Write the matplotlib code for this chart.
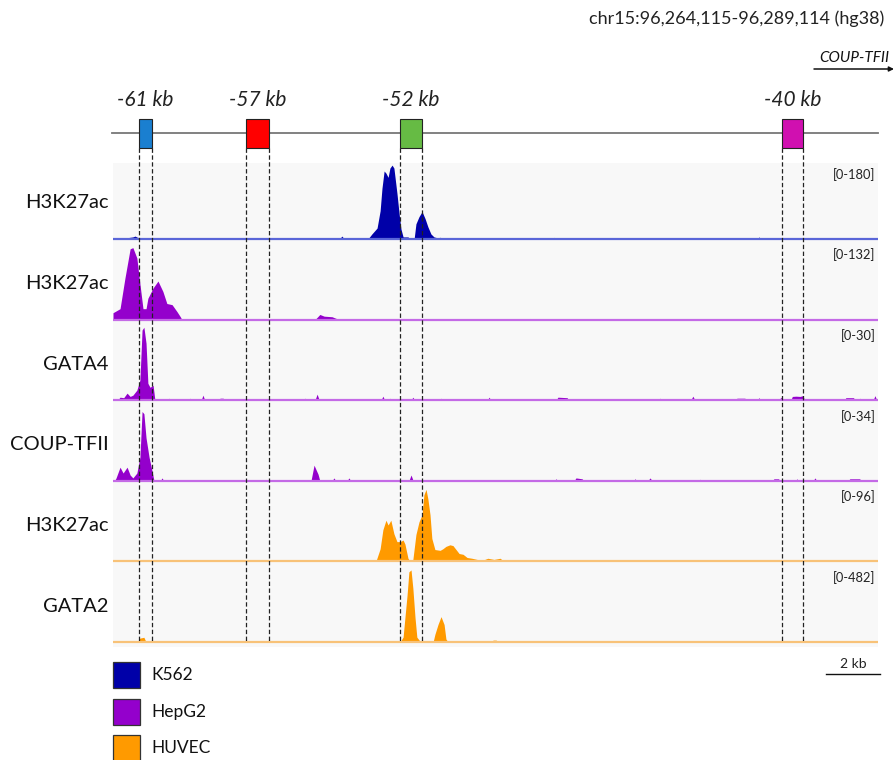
"""
Genome browser style view of the COUP-TFII upstream enhancers (hg38)
"""

import matplotlib
matplotlib.use("Agg")
import matplotlib.pyplot as plt
from matplotlib.patches import Rectangle

W, H = 894, 760

region = "chr15:96,264,115-96,289,114 (hg38)"
window_kb = 25.0
gene_name = "COUP-TFII"
scale_label = "2 kb"

# enhancers (kb from window start)
enh_labels = ["-61 kb", "-57 kb", "-52 kb", "-40 kb"]
enh_start = [0.85, 4.35, 9.38, 21.86]
enh_end = [1.27, 5.10, 10.10, 22.55]
enh_colors = ["#1a7fd0", "#ff0000", "#66bb44", "#d010b0"]

# tracks
track_names = ["H3K27ac", "H3K27ac", "GATA4", "COUP-TFII", "H3K27ac", "GATA2"]
track_cells = ["K562", "HepG2", "HepG2", "HepG2", "HUVEC", "HUVEC"]
track_max = [180, 132, 30, 34, 96, 482]

cell_lines = ["K562", "HepG2", "HUVEC"]
cell_fill = {"K562": "#0000a8", "HepG2": "#9400cc", "HUVEC": "#ff9a00"}
cell_base = {"K562": "#5a66d8", "HepG2": "#c46ae6", "HUVEC": "#f8c278"}

# signal profiles: (kb, signal) vertices
k562_h3k27ac = [
    (0.10, 0), (0.23, 2), (0.45, 3), (0.65, 5), (0.72, 7), (0.80, 4), (0.95, 2),
    (1.10, 3), (1.30, 3), (1.45, 2), (1.60, 1), (1.80, 0),
    (7.40, 0), (7.48, 7), (7.56, 0),
    (8.33, 0), (8.46, 12), (8.63, 26), (8.73, 67), (8.79, 120), (8.86, 161),
    (8.92, 156), (8.99, 146), (9.05, 168), (9.12, 175), (9.18, 168), (9.22, 144),
    (9.28, 108), (9.35, 60), (9.41, 24), (9.48, 5), (9.54, 5), (9.64, 5), (9.71, 0),
    (9.84, 0), (9.90, 36), (10.00, 53), (10.10, 65), (10.20, 48), (10.29, 29),
    (10.39, 12), (10.49, 5), (10.60, 3), (10.69, 4), (10.80, 2), (11.01, 2),
    (11.10, 2), (11.18, 2), (11.40, 1), (11.50, 1), (12.00, 1), (12.10, 0),
    (12.20, 2), (12.50, 1), (12.60, 0),
    (14.35, 0), (14.41, 4), (14.47, 0),
    (21.05, 0), (21.11, 5), (21.17, 0),
]

hepg2_h3k27ac = [
    (0.00, 12), (0.23, 19), (0.39, 72), (0.56, 123), (0.65, 125), (0.78, 107),
    (0.88, 62), (0.98, 19), (1.08, 19), (1.14, 37), (1.31, 55), (1.47, 67),
    (1.63, 49), (1.76, 28), (1.93, 26), (2.09, 14), (2.20, 5), (2.25, 0),
    (3.90, 0), (3.92, 2), (3.96, 0),
    (6.60, 0), (6.76, 9), (6.90, 6), (7.16, 5), (7.25, 3), (7.40, 0),
    (13.60, 0), (13.63, 2), (13.70, 0),
]

hepg2_gata4 = [
    (0.15, 0), (0.23, 1.2), (0.35, 1.0), (0.46, 2.8), (0.56, 1.5), (0.65, 2.0),
    (0.78, 4.0), (0.88, 8.0), (0.95, 27.7), (1.01, 28.8), (1.08, 22.5),
    (1.14, 6.7), (1.21, 5.1), (1.31, 5.9), (1.37, 0),
    (1.78, 0), (1.83, 0.8), (1.88, 0), (2.47, 0), (2.52, 0.8), (2.57, 0),
    (2.88, 0), (2.94, 2.0), (3.00, 0), (3.45, 0), (3.50, 0.8), (3.60, 0.8), (3.65, 0),
    (4.43, 0), (4.48, 0.4), (4.53, 0), (5.05, 0), (5.10, 0.4), (5.15, 0),
    (6.20, 0), (6.27, 0.8), (6.34, 0), (6.60, 0), (6.67, 2.4), (6.74, 0),
    (7.92, 0), (7.97, 0.4), (8.02, 0), (8.76, 0), (8.82, 1.6), (8.88, 0),
    (9.00, 0), (9.05, 0.8), (9.10, 0),
    (9.74, 0), (9.80, 1.2), (9.86, 0), (10.67, 0), (10.72, 0.8), (10.77, 0),
    (12.23, 0), (12.29, 1.2), (12.35, 0), (14.48, 0), (14.54, 1.2), (14.84, 1.0),
    (14.90, 0), (15.10, 0), (15.16, 0.6), (15.59, 0.6), (15.65, 0),
    (17.82, 0), (17.88, 0.8), (17.94, 0), (18.31, 0), (18.37, 0.4), (18.43, 0),
    (18.88, 0), (18.95, 1.6), (19.02, 0), (19.79, 0), (19.84, 0.5), (19.89, 0),
    (20.35, 0), (20.39, 0.8), (20.65, 0.8), (20.70, 0),
    (21.05, 0), (21.11, 1.0), (21.17, 0), (21.76, 0), (21.83, 1.2), (21.89, 0),
    (22.15, 0), (22.20, 1.5), (22.32, 1.6), (22.45, 1.5), (22.55, 1.8), (22.60, 0),
    (23.15, 0), (23.20, 0.5), (23.25, 0), (23.90, 0), (23.95, 1.0), (24.20, 1.0),
    (24.25, 0), (24.36, 0), (24.41, 0.8), (24.46, 0), (24.84, 0), (24.90, 1.8),
    (24.96, 0),
]

hepg2_couptfii = [
    (0.05, 0), (0.10, 1.3), (0.23, 6.1), (0.33, 3.5), (0.46, 6.1), (0.56, 2.6),
    (0.65, 1.3), (0.78, 3.5), (0.88, 10.5), (0.95, 31.0), (1.01, 30.0),
    (1.08, 19.2), (1.18, 10.5), (1.27, 4.8), (1.34, 0),
    (1.55, 0), (1.60, 1.3), (1.66, 0), (3.45, 0), (3.50, 0.4), (3.55, 0),
    (6.47, 0), (6.57, 7.0), (6.70, 3.0), (6.76, 0),
    (7.16, 0), (7.22, 1.3), (7.28, 0), (7.65, 0), (7.71, 1.3), (7.77, 0),
    (8.09, 0), (8.14, 0.4), (8.19, 0),
    (9.67, 0), (9.74, 2.6), (9.81, 0), (10.15, 0), (10.20, 0.4), (10.25, 0),
    (11.03, 0), (11.08, 0.5), (11.13, 0), (12.07, 0), (12.12, 0.5), (12.17, 0),
    (13.48, 0), (13.53, 0.3), (13.58, 0), (14.42, 0), (14.48, 0.9), (14.54, 0),
    (15.07, 0), (15.13, 1.3), (15.33, 0.9), (15.39, 0),
    (17.00, 0), (17.06, 0.9), (17.12, 0), (17.48, 0), (17.55, 1.3), (17.62, 0),
    (18.15, 0), (18.20, 0.4), (18.25, 0), (19.12, 0), (19.18, 0.7), (19.24, 0),
    (19.62, 0), (19.67, 0.4), (19.72, 0),
    (21.54, 0), (21.60, 0.9), (21.75, 0.9), (21.80, 0), (22.30, 0), (22.35, 0.9),
    (22.40, 0), (22.88, 0), (22.94, 1.3), (23.00, 0),
    (24.02, 0), (24.08, 0.9), (24.40, 0.9), (24.46, 0),
]

huvec_h3k27ac = [
    (1.35, 0), (1.40, 0.8), (1.55, 0.8), (1.60, 0),
    (6.65, 0), (6.70, 1.2), (6.75, 0), (7.53, 0), (7.58, 1.2), (7.63, 0),
    (8.59, 0), (8.73, 16), (8.82, 40), (8.92, 52), (8.99, 46), (9.08, 52),
    (9.18, 35), (9.28, 25), (9.38, 25), (9.48, 27), (9.54, 22), (9.64, 4),
    (9.71, 0), (9.80, 2.5), (9.90, 34), (10.00, 50), (10.10, 59), (10.16, 84),
    (10.23, 91), (10.29, 79), (10.36, 59), (10.42, 29), (10.52, 15), (10.69, 14),
    (10.78, 16), (10.88, 19), (11.01, 21), (11.11, 20), (11.21, 15), (11.31, 10),
    (11.44, 9), (11.57, 5), (11.73, 4), (11.90, 2.5), (12.06, 1.2), (12.25, 4),
    (12.45, 2.5), (12.65, 4), (12.78, 0),
    (21.54, 0), (21.60, 1.2), (21.80, 1.2), (21.85, 0),
]

huvec_gata2 = [
    (0.80, 0), (0.88, 25), (1.01, 30), (1.08, 0),
    (9.38, 0), (9.48, 31), (9.54, 155), (9.61, 297), (9.67, 445), (9.74, 457),
    (9.80, 340), (9.87, 155), (9.93, 31), (10.03, 6), (10.13, 6), (10.23, 0),
    (10.46, 0), (10.52, 49), (10.62, 111), (10.72, 161), (10.82, 111),
    (10.88, 19), (10.95, 0),
    (12.38, 0), (12.42, 12), (12.52, 12), (12.61, 0),
]

track_data = [k562_h3k27ac, hepg2_h3k27ac, hepg2_gata4, hepg2_couptfii,
              huvec_h3k27ac, huvec_gata2]

plt.rcParams["font.family"] = ["Lato", "DejaVu Sans"]

fig = plt.figure(figsize=(W / 100, H / 100), dpi=100)

# pixel-space layer for labels / legend
ax_px = fig.add_axes([0, 0, 1, 1])
ax_px.set_xlim(0, W)
ax_px.set_ylim(H, 0)
ax_px.axis("off")

x0, x1 = 113, 878
track_top, track_h = 163, 80.6

for i, (name, cell, ymax, prof) in enumerate(zip(track_names, track_cells, track_max, track_data)):
    top = track_top + i * track_h
    ax = fig.add_axes([x0 / W, 1 - (top + track_h) / H, (x1 - x0) / W, track_h / H])
    ax.set_facecolor("#f8f8f8")
    xs = [p[0] for p in prof]
    ys = [p[1] for p in prof]
    ax.fill_between(xs, ys, 0, color=cell_fill[cell], lw=0)
    ax.axhline(0, color=cell_base[cell], lw=1.6)
    ax.set_xlim(0, window_kb)
    ax.set_ylim(-ymax * 0.06, ymax)
    for s in ax.spines.values():
        s.set_visible(False)
    ax.set_xticks([])
    ax.set_yticks([])
    ax.text(0.997, 0.94, f"[0-{ymax}]", transform=ax.transAxes, ha="right",
            va="top", fontsize=9.3, color="#222222")
    ax_px.text(109, top + 40, name, ha="right", va="center", fontsize=14.5,
               color="#111111")

# enhancer row + dashed guides, on top of the tracks
ov = fig.add_axes([x0 / W, 0, (x1 - x0) / W, 1])
ov.set_xlim(0, window_kb)
ov.set_ylim(H, 0)
ov.axis("off")
ov.plot([-0.03, window_kb], [133, 133], color="#777777", lw=1.3, clip_on=False)
for lab, a, b, c in zip(enh_labels, enh_start, enh_end, enh_colors):
    ov.add_patch(Rectangle((a, 119), b - a, 29, facecolor=c, edgecolor="#222222",
                           lw=0.8, zorder=3))
    for xv in (a, b):
        ov.plot([xv, xv], [148, 642], color="#222222", lw=0.9,
                linestyle=(0, (3.5, 2)), zorder=2)
    ov.text((a + b) / 2, 100, lab, ha="center", va="center", fontsize=15,
            style="italic", color="#222222")

# region title and gene arrow
ax_px.text(884, 19, region, ha="right", va="center", fontsize=13, color="#222222")
ax_px.text(854, 58, gene_name, ha="center", va="center", fontsize=11,
           style="italic", color="#111111")
ax_px.annotate("", xy=(894, 69), xytext=(814, 69),
               arrowprops=dict(arrowstyle="-|>", color="#111111", lw=1.1,
                               mutation_scale=7, shrinkA=0, shrinkB=0))

# scale bar
ax_px.plot([826, 880], [674, 674], color="#111111", lw=1)
ax_px.text(853, 664, scale_label, ha="center", va="center", fontsize=10,
           color="#222222")

# legend
for j, cell in enumerate(cell_lines):
    y = 662 + j * 36.5
    ax_px.add_patch(Rectangle((113, y), 27, 26, facecolor=cell_fill[cell],
                              edgecolor="#333333", lw=0.9))
    ax_px.text(151, y + 13, cell, ha="left", va="center", fontsize=12.5,
               color="#111111")

fig.savefig("out.png", dpi=100)
